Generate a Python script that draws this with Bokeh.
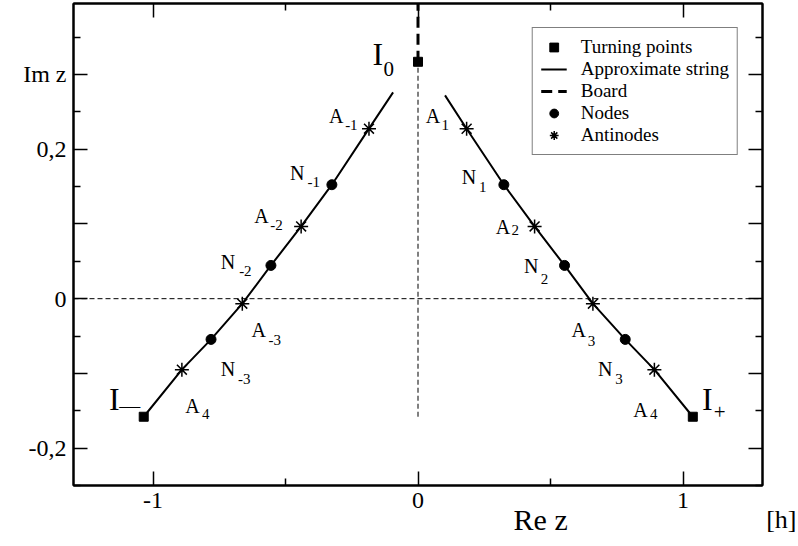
from bokeh.plotting import figure
from bokeh.models import LinearAxis, FixedTicker, Span, Label, Legend, LegendItem
from bokeh.core.properties import value
from bokeh.embed import file_html
from bokeh.resources import INLINE

# ---- data ----
turning_x = [-1.035, 0.0, 1.037]
turning_y = [-0.158, 0.317, -0.158]

string_left_x = [-0.094, -0.185, -0.325, -0.441, -0.555, -0.663, -0.781, -0.891, -1.035]
string_left_y = [0.276, 0.2275, 0.1525, 0.0967, 0.0445, -0.0067, -0.0545, -0.095, -0.158]
string_right_x = [0.102, 0.1835, 0.324, 0.44, 0.553, 0.66, 0.782, 0.892, 1.037]
string_right_y = [0.272, 0.2274, 0.1525, 0.0967, 0.0445, -0.0067, -0.0545, -0.095, -0.158]

board_x = [0.0, 0.0]
board_y = [0.317, 0.42]

axis_x = [0.0, 0.0]
axis_y = [-0.158, 0.317]

node_x = [-0.325, -0.555, -0.781, 0.324, 0.553, 0.782]
node_y = [0.1525, 0.0445, -0.0545, 0.1525, 0.0445, -0.0545]

antinode_x = [-0.185, -0.441, -0.663, -0.891, 0.1835, 0.44, 0.66, 0.892]
antinode_y = [0.2275, 0.0967, -0.0067, -0.095, 0.2274, 0.0967, -0.0067, -0.095]

x_ticks = [-1, 0, 1]
x_minor = [-1.5, -0.5, 0.5, 1.5]
x_tick_labels = {-1: "-1", 0: "0", 1: "1"}
y_ticks = [-0.2, -0.1, 0, 0.1, 0.2, 0.3]
y_minor = [-0.25, -0.15, -0.05, 0.05, 0.15, 0.25, 0.35]
y_tick_labels = {-0.2: "-0,2", -0.1: "", 0: "0", 0.1: "", 0.2: "0,2", 0.3: "Im z"}

# point labels (text, sub-script)
lab_text = ["A", "N", "A", "N", "A", "N", "A", "A", "N", "A", "N", "A", "N", "A"]
lab_x = [-0.336, -0.483, -0.618, -0.744, -0.628, -0.744, -0.878,
         0.029, 0.165, 0.293, 0.400, 0.579, 0.679, 0.812]
lab_y = [0.245, 0.168, 0.111, 0.049, -0.042, -0.094, -0.143,
         0.245, 0.163, 0.096, 0.044, -0.042, -0.094, -0.149]
sub_text = ["-1", "-1", "-2", "-2", "-3", "-3", "4", "1", "1", "2", "2", "3", "3", "4"]
sub_x = [-0.275, -0.417, -0.558, -0.675, -0.564, -0.679, -0.815,
         0.089, 0.230, 0.353, 0.463, 0.641, 0.744, 0.875]
sub_y = [0.233, 0.156, 0.099, 0.037, -0.055, -0.107, -0.154,
         0.233, 0.150, 0.092, 0.027, -0.057, -0.107, -0.154]

big_text = ["I", "I", "I"]
big_x = [-0.172, -1.166, 1.072]
big_y = [0.328, -0.134, -0.134]
big_sub_text = ["0", "\u2014", "+"]
big_sub_x = [-0.130, -1.127, 1.116]
big_sub_y = [0.308, -0.143, -0.152]

FONT = "Liberation Serif"

p = figure(width=798, height=546, x_range=(-1.3, 1.3), y_range=(-0.25, 0.395),
           output_backend="svg", toolbar_location=None,
           min_border_left=73, min_border_right=36, min_border_top=3, min_border_bottom=61)
p.grid.visible = False
p.outline_line_color = "black"
p.outline_line_width = 2
p.background_fill_color = "white"
p.border_fill_color = "white"


def style_axis(ax, ticks, minor, labels, show_labels=True):
    ax.ticker = FixedTicker(ticks=ticks, minor_ticks=minor)
    ax.major_tick_in = 14
    ax.major_tick_out = 0
    ax.minor_tick_in = 7
    ax.minor_tick_out = 0
    ax.major_tick_line_width = 1.5
    ax.minor_tick_line_width = 1.5
    ax.major_tick_line_color = "black"
    ax.minor_tick_line_color = "black"
    ax.axis_line_width = 2
    ax.axis_line_color = "black"
    ax.major_label_text_font = FONT
    ax.major_label_text_font_size = "24px"
    ax.major_label_text_color = "black"
    ax.major_label_standoff = 7
    if show_labels:
        ax.major_label_overrides = labels
    else:
        ax.major_label_overrides = {t: "" for t in ticks}
        ax.major_label_text_font_size = "0px"
        ax.major_label_standoff = 0


style_axis(p.xaxis[0], x_ticks, x_minor, x_tick_labels)
style_axis(p.yaxis[0], y_ticks, y_minor, y_tick_labels)
top_ax = LinearAxis()
right_ax = LinearAxis()
style_axis(top_ax, x_ticks, x_minor, x_tick_labels, show_labels=False)
style_axis(right_ax, y_ticks, y_minor, y_tick_labels, show_labels=False)
p.add_layout(top_ax, "above")
p.add_layout(right_ax, "right")

# dashed guide lines
p.add_layout(Span(location=0, dimension="width", line_color="black",
                  line_width=1, line_dash="5 3"))
p.line(axis_x, axis_y, line_color="black", line_width=1, line_dash="5 3")

# curves
r_string = p.multi_line([string_left_x, string_right_x], [string_left_y, string_right_y],
                        line_color="black", line_width=2)
r_board = p.line(board_x, board_y, line_color="black", line_width=3, line_dash="11 6")
r_turn = p.scatter(turning_x, turning_y, marker="square", size=9,
                   fill_color="black", line_color="black")
r_nodes = p.scatter(node_x, node_y, marker="circle", size=10,
                    fill_color="black", line_color="black")
r_anti = p.scatter(antinode_x, antinode_y, marker="asterisk", size=14,
                   line_color="black", line_width=1.5)

# text labels
p.text(lab_x, lab_y, text=lab_text, text_font=value(FONT), text_font_size="20px",
       text_align="left", text_baseline="alphabetic", text_color="black")
p.text(sub_x, sub_y, text=sub_text, text_font=value(FONT), text_font_size="15px",
       text_align="left", text_baseline="alphabetic", text_color="black")
p.text(big_x, big_y, text=big_text, text_font=value(FONT), text_font_size="32px",
       text_align="left", text_baseline="alphabetic", text_color="black")
p.text(big_sub_x, big_sub_y, text=big_sub_text, text_font=value(FONT), text_font_size="21px",
       text_align="left", text_baseline="alphabetic", text_color="black")

# captions outside the frame (in side panels so they are not clipped)
p.add_layout(Label(x=0.3607, y=-0.296, text="Re z", text_align="left", text_baseline="alphabetic",
                   text_font=FONT, text_font_size="30px", text_color="black"), "below")
p.add_layout(Label(x=1.314, y=-0.296, text="[h]", text_align="left", text_baseline="alphabetic",
                   text_font=FONT, text_font_size="26px", text_color="black"), "right")

legend = Legend(items=[
    LegendItem(label="Turning points", renderers=[r_turn]),
    LegendItem(label="Approximate string", renderers=[r_string]),
    LegendItem(label="Board", renderers=[r_board]),
    LegendItem(label="Nodes", renderers=[r_nodes]),
    LegendItem(label="Antinodes", renderers=[r_anti]),
], location="top_right")
legend.margin = 24
legend.padding = 8
legend.spacing = 0
legend.label_height = 22
legend.glyph_height = 22
legend.glyph_width = 26
legend.label_standoff = 14
legend.label_text_font = FONT
legend.label_text_font_size = "19px"
legend.label_text_color = "black"
legend.border_line_color = "black"
legend.border_line_width = 1
legend.background_fill_alpha = 1.0
p.add_layout(legend)

open("out.html", "w").write(file_html(p, INLINE))
